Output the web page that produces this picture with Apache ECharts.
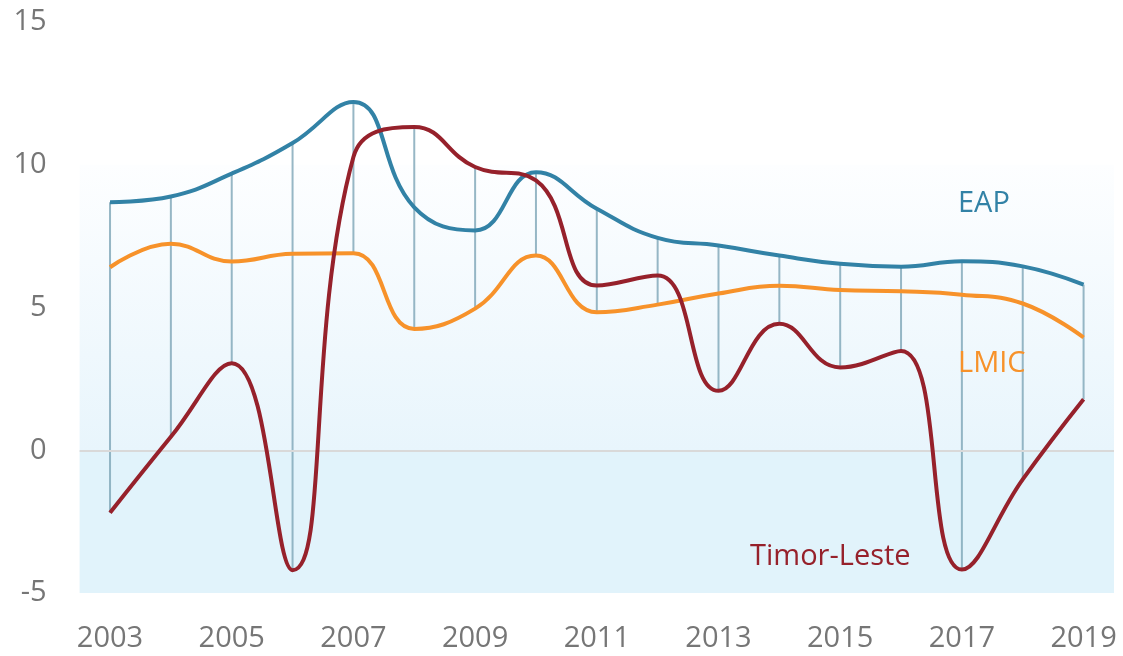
<!DOCTYPE html>
<html><head><meta charset="utf-8">
<script src="https://cdn.jsdelivr.net/npm/echarts@6/dist/echarts.min.js"></script>
<style>html,body{margin:0;padding:0;background:#fff}#c{width:1123px;height:656px}</style>
</head><body><div id="c"></div>
<script>
const years = ['2003','2004','2005','2006','2007','2008','2009','2010','2011','2012','2013','2014','2015','2016','2017','2018','2019'];
const eap = [8.69, 8.89, 9.69, 10.76, 12.2, 8.51, 7.7, 9.74, 8.46, 7.44, 7.17, 6.82, 6.53, 6.43, 6.62, 6.44, 5.8];
const lmic = [6.41, 7.23, 6.61, 6.88, 6.9, 4.25, 4.96, 6.82, 4.83, 5.1, 5.49, 5.76, 5.61, 5.57, 5.45, 5.14, 3.95];
const timor = [-2.19, 0.47, 3.05, -4.2, 10.27, 11.32, 9.92, 9.45, 5.77, 6.12, 2.08, 4.43, 2.9, 3.48, -4.18, -1.02, 1.79];
const yTicks = [-5, 0, 5, 10, 15];

const hiLo = years.map((y, i) => [i, Math.max(eap[i], lmic[i], timor[i]), Math.min(eap[i], lmic[i], timor[i])]);
const FONT = '"Open Sans", "Noto Sans", sans-serif';

const chart = echarts.init(document.getElementById('c'));
chart.setOption({
  animation: false,
  grid: { left: 79.6, right: 9, top: 22, bottom: 63 },
  xAxis: {
    type: 'category', data: years, boundaryGap: true,
    axisLine: { show: false }, axisTick: { show: false },
    axisLabel: { interval: 1, color: '#767676', fontSize: 29, fontFamily: FONT, margin: 31 },
    splitLine: { show: false }
  },
  yAxis: {
    type: 'value', min: yTicks[0], max: yTicks[yTicks.length - 1], interval: 5,
    axisLine: { show: false }, axisTick: { show: false }, splitLine: { show: false },
    axisLabel: { color: '#767676', fontSize: 29, fontFamily: FONT, margin: 33 }
  },
  series: [
    {
      type: 'custom', z: 1, silent: true,
      data: hiLo,
      encode: { x: 0, y: [1, 2] },
      renderItem: function (params, api) {
        const p1 = api.coord([api.value(0), api.value(1)]);
        const p2 = api.coord([api.value(0), api.value(2)]);
        return { type: 'line', shape: { x1: p1[0], y1: p1[1], x2: p2[0], y2: p2[1] },
          style: { stroke: 'rgba(125,165,182,0.8)', lineWidth: 2 } };
      },
      markArea: {
        silent: true,
        data: [
          [{ yAxis: 0, itemStyle: { color: new echarts.graphic.LinearGradient(0, 0, 0, 1, [
              { offset: 0, color: '#FDFEFF' }, { offset: 1, color: '#E8F5FC' }]) } }, { yAxis: 10 }],
          [{ yAxis: -5, itemStyle: { color: '#E1F3FB' } }, { yAxis: 0 }]
        ]
      },
      markLine: {
        silent: true, symbol: 'none', label: { show: false },
        lineStyle: { color: '#D9D9D9', width: 2, type: 'solid' },
        data: [{ yAxis: 0 }]
      }
    },
    { name: 'LMIC', type: 'line', data: lmic, smooth: 0.45, showSymbol: false, z: 3,
      lineStyle: { color: '#F7922A', width: 4 }, itemStyle: { color: '#F7922A' } },
    { name: 'EAP', type: 'line', data: eap, smooth: 0.45, showSymbol: false, z: 4,
      lineStyle: { color: '#3282A6', width: 4 }, itemStyle: { color: '#3282A6' } },
    { name: 'Timor-Leste', type: 'line', data: timor, smooth: 0.45, showSymbol: false, z: 5,
      lineStyle: { color: '#96212B', width: 4 }, itemStyle: { color: '#96212B' } }
  ],
  graphic: [
    { type: 'text', z: 100, x: 958, y: 204, style: { text: 'EAP', fill: '#3282A6', font: '29px ' + FONT, verticalAlign: 'middle' } },
    { type: 'text', z: 100, x: 958, y: 364, style: { text: 'LMIC', fill: '#F7922A', font: '29px ' + FONT, verticalAlign: 'middle' } },
    { type: 'text', z: 100, x: 750, y: 557, style: { text: 'Timor-Leste', fill: '#96212B', font: '29px ' + FONT, verticalAlign: 'middle' } }
  ]
});
</script></body></html>
